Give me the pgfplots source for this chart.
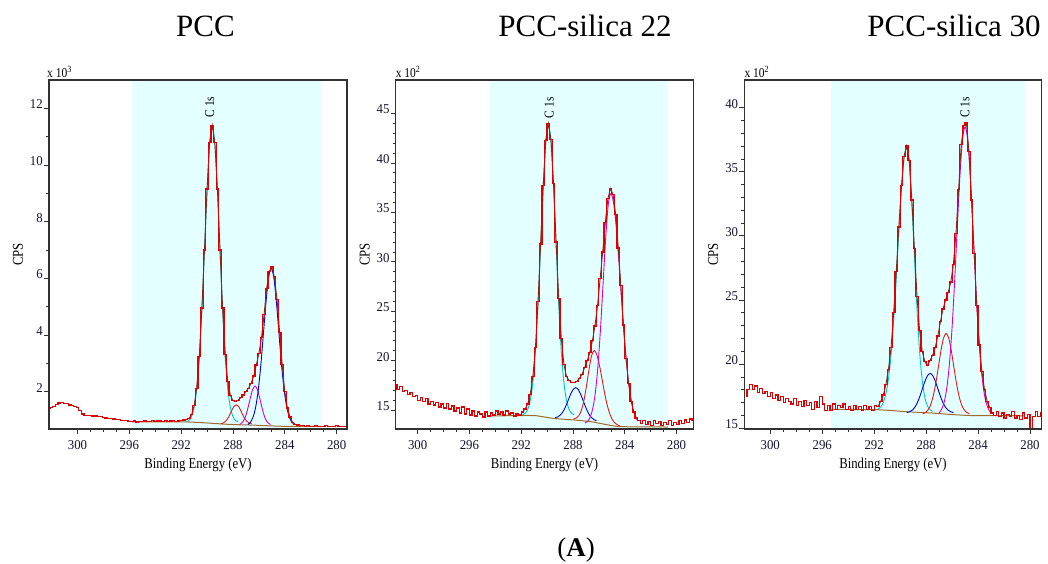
\documentclass[border=0pt]{standalone}
\usepackage{fontspec}
\setmainfont{Liberation Serif}
\newfontfamily\tickfam[FakeStretch=0.95]{Liberation Serif}
\newfontfamily\labfam[FakeStretch=0.85]{Liberation Serif}
\usepackage{pgfplots}
\usepackage{pgfplotstable}
\pgfplotsset{compat=1.18}

\definecolor{shade}{RGB}{228,255,255}
\definecolor{datared}{RGB}{225,0,0}
\definecolor{envred}{RGB}{150,35,20}
\definecolor{cyancomp}{RGB}{0,200,200}
\definecolor{bluecomp}{RGB}{0,0,225}
\definecolor{magcomp}{RGB}{210,0,210}
\definecolor{redcomp}{RGB}{230,25,25}
\definecolor{bgbrown}{RGB}{160,105,40}
\definecolor{framecol}{RGB}{50,50,50}
\definecolor{tickcol}{RGB}{20,20,50}

\newcommand\tickfont{\tickfam\fontsize{13.5}{13.5}\selectfont}
\newcommand\labfont{\labfam\fontsize{15}{15}\selectfont}
\newcommand\smallfont{\labfam\fontsize{13.5}{13.5}\selectfont}

\pgfplotsset{
  xps/.style={
    scale only axis, height=349pt, x dir=reverse,
    clip mode=individual,
    axis line style={draw=framecol, line width=1.1pt},
    tick align=outside, xtick pos=bottom, ytick pos=left,
    major tick length=5pt, minor tick length=3pt,
    every tick/.append style={framecol, line width=0.8pt},
    xtick={280,284,288,292,296,300}, minor x tick num=3,
    tick label style={font=\tickfont, text=tickcol},
    yticklabel style={yshift=4pt, inner xsep=1pt},
    xticklabel style={yshift=-3pt},
    /pgf/number format/assume math mode=true,
    xlabel={Binding Energy (eV)},
    xlabel style={font=\labfont, at={(axis description cs:0.5,0)}, anchor=north, yshift=-26pt},
    axis on top,
  },
  meas/.style={datared, line width=1.2pt, const plot mark mid},
  env/.style={envred, line width=0.9pt},
  comp/.style={line width=0.9pt, smooth},
}

% ---------- PCC ----------
\pgfplotstableread{
x y
302.2 1.40
302.0 1.43
301.8 1.48
301.6 1.55
301.4 1.60
301.2 1.62
301.0 1.59
300.8 1.57
300.6 1.53
300.4 1.50
300.2 1.47
300.0 1.43
299.8 1.32
299.6 1.21
299.4 1.17
299.2 1.16
299.0 1.16
298.8 1.14
298.6 1.14
298.4 1.12
298.2 1.11
298.0 1.08
297.8 1.07
297.6 1.05
297.4 1.06
297.2 1.03
297.0 1.01
296.8 1.02
296.6 0.99
296.4 0.98
296.2 0.97
296.0 0.95
295.8 0.94
295.6 0.96
295.4 0.93
295.2 0.95
295.0 0.94
294.8 0.96
294.6 0.94
294.4 0.95
294.2 0.97
294.0 0.94
293.8 0.96
293.6 0.96
293.4 0.95
293.2 0.97
293.0 0.95
292.8 0.96
292.6 0.97
292.4 0.95
292.2 0.96
292.0 0.97
291.8 1.00
291.6 1.02
291.4 1.05
291.2 1.18
291.0 1.50
290.8 2.12
290.6 3.25
290.4 4.95
290.2 7.00
290.0 9.15
289.8 10.80
289.6 11.40
289.4 10.80
289.2 9.15
289.0 7.00
288.8 4.95
288.6 3.32
288.4 2.35
288.2 1.87
288.0 1.68
287.8 1.65
287.6 1.70
287.4 1.78
287.2 1.88
287.0 2.00
286.8 2.12
286.6 2.30
286.4 2.55
286.2 2.94
286.0 3.34
285.8 3.90
285.6 4.72
285.4 5.65
285.2 6.23
285.0 6.40
284.8 6.05
284.6 5.25
284.4 4.10
284.2 2.95
284.0 2.00
283.8 1.42
283.6 1.10
283.4 0.92
283.2 0.85
283.0 0.82
282.8 0.80
282.6 0.79
282.4 0.78
282.2 0.79
282.0 0.78
281.8 0.77
281.6 0.79
281.4 0.77
281.2 0.78
281.0 0.76
280.8 0.79
280.6 0.77
280.4 0.78
280.2 0.76
280.0 0.79
279.8 0.77
279.6 0.78
279.4 0.77
279.2 0.78
}\dataA

% ---------- PCC-silica 22 ----------
\pgfplotstableread{
x y
301.7 17.6
301.5 17.1
301.3 17.4
301.1 16.9
300.9 17.0
300.7 16.6
300.5 16.8
300.3 16.4
300.1 16.5
299.9 16.0
299.7 16.3
299.5 15.9
299.3 16.2
299.1 15.6
298.9 15.9
298.7 15.5
298.5 15.8
298.3 15.3
298.1 15.6
297.9 15.2
297.7 15.7
297.5 15.1
297.3 15.4
297.1 14.9
296.9 15.2
296.7 14.7
296.5 15.3
296.3 14.6
296.1 15.1
295.9 14.5
295.7 14.9
295.5 14.4
295.3 14.8
295.1 14.6
294.9 14.3
294.7 14.8
294.5 14.4
294.3 14.7
294.1 14.5
293.9 14.9
293.7 14.6
293.5 14.8
293.3 14.5
293.1 14.9
292.9 14.6
292.7 14.7
292.5 14.4
292.3 14.6
292.1 14.5
291.9 14.8
291.7 15.1
291.5 15.6
291.3 16.6
291.1 18.4
290.9 21.3
290.7 26.0
290.5 31.8
290.3 37.7
290.1 42.3
289.9 44.0
289.7 42.4
289.5 37.9
289.3 32.0
289.1 26.3
288.9 22.2
288.7 19.6
288.5 18.4
288.3 18.0
288.1 17.8
287.9 17.8
287.7 17.9
287.5 18.2
287.3 18.6
287.1 19.3
286.9 20.0
286.7 20.8
286.5 22.0
286.3 23.5
286.1 25.6
285.9 28.3
285.7 31.0
285.5 34.0
285.3 36.4
285.1 37.4
284.9 36.8
284.7 34.8
284.5 31.4
284.3 27.6
284.1 23.6
283.9 20.2
283.7 17.7
283.5 15.9
283.3 14.8
283.1 14.2
282.9 13.9
282.7 13.6
282.5 13.9
282.3 13.5
282.1 13.8
281.9 13.4
281.7 13.9
281.5 13.6
281.3 13.8
281.1 13.4
280.9 13.7
280.7 13.5
280.5 13.9
280.3 13.4
280.1 13.7
279.9 13.5
279.7 13.9
279.5 13.6
279.3 14.0
279.1 13.7
278.9 14.1
278.7 13.9
}\dataB

% ---------- PCC-silica 30 ----------
\pgfplotstableread{
x y
301.9 17.5
301.7 18.0
301.5 18.4
301.3 18.0
301.1 18.3
300.9 17.8
300.7 18.1
300.5 17.7
300.3 17.9
300.1 17.5
299.9 17.8
299.7 17.3
299.5 17.6
299.3 17.2
299.1 17.5
298.9 17.0
298.7 17.3
298.5 17.1
298.3 16.9
298.1 17.3
297.9 16.8
297.7 17.1
297.5 16.7
297.3 17.2
297.1 16.8
296.9 17.0
296.7 16.5
296.5 17.1
296.3 16.6
296.1 17.5
295.9 16.9
295.7 16.4
295.5 16.8
295.3 16.4
295.1 16.9
294.9 16.5
294.7 16.8
294.5 16.6
294.3 16.9
294.1 16.5
293.9 16.7
293.7 16.4
293.5 16.8
293.3 16.5
293.1 16.7
292.9 16.4
292.7 16.8
292.5 16.5
292.3 16.7
292.1 16.4
291.9 16.8
291.7 16.7
291.5 17.1
291.3 17.6
291.1 18.4
290.9 19.6
290.7 21.3
290.5 24.0
290.3 27.2
290.1 30.7
289.9 33.9
289.7 36.2
289.5 37.0
289.3 35.9
289.1 32.8
288.9 29.0
288.7 25.3
288.5 22.6
288.3 21.0
288.1 20.2
287.9 19.9
287.7 20.3
287.5 20.7
287.3 21.3
287.1 22.2
286.9 23.3
286.7 24.3
286.5 25.0
286.3 25.6
286.1 26.4
285.9 27.8
285.7 30.2
285.5 33.6
285.3 37.1
285.1 38.6
284.9 38.8
284.7 36.6
284.5 32.8
284.3 28.6
284.1 24.6
283.9 21.5
283.7 19.4
283.5 18.0
283.3 17.1
283.1 16.6
282.9 16.2
282.7 16.0
282.5 16.3
282.3 15.9
282.1 16.2
281.9 15.8
281.7 16.1
281.5 15.9
281.3 16.3
281.1 15.8
280.9 16.0
280.7 15.7
280.5 16.2
280.3 15.8
280.1 16.1
279.9 15.0
279.7 15.9
279.5 16.3
279.3 15.9
279.1 16.2
}\dataC

\begin{document}
\begin{tikzpicture}[x=1pt,y=1pt]
\useasboundingbox (0,0) rectangle (1048,564);

\node[font=\fontsize{31}{31}\selectfont, anchor=base] at (205.5,527.5) {PCC};
\node[font=\fontsize{31}{31}\selectfont, anchor=base] at (585,527.5) {PCC-silica 22};
\node[font=\fontsize{31}{31}\selectfont, anchor=base] at (954,527.5) {PCC-silica 30};
\node[font=\fontsize{27}{27}\selectfont, anchor=base] at (576,7) {(\textbf{A})};

% ===== panel 1 =====
\begin{axis}[xps, at={(49pt,135pt)}, anchor=south west, width=298pt,
  xmin=279.2, xmax=302.2, ymin=0.68, ymax=13.0,
  ytick={2,4,6,8,10,12}, minor y tick num=1]
  \addplot[fill=shade, draw=none] coordinates {(295.8,0.68) (281.2,0.68) (281.2,13.0) (295.8,13.0)} -- cycle;
  \addplot[bgbrown, line width=1pt] coordinates {(295.8,0.93) (291.6,0.93) (290.6,0.91) (289.6,0.88) (288.6,0.85) (287.6,0.83) (286.6,0.82) (285.6,0.80) (284.6,0.78) (283.6,0.77) (281.2,0.77)};
  \addplot[comp, cyancomp] coordinates {(291.6,0.93) (291.4,0.98) (291.2,1.12) (291.0,1.44) (290.8,2.08) (290.6,3.20) (290.4,4.87) (290.2,6.96) (290.0,9.10) (289.8,10.73) (289.6,11.35) (289.4,10.73) (289.2,9.10) (289.0,6.96) (288.8,4.87) (288.6,3.20) (288.4,2.08) (288.2,1.44) (288.0,1.12) (287.8,0.98) (287.6,0.93)};
  \addplot[comp, redcomp] coordinates {(288.95,0.86) (288.75,0.89) (288.55,0.96) (288.35,1.09) (288.15,1.28) (287.95,1.46) (287.75,1.53) (287.55,1.46) (287.35,1.28) (287.15,1.09) (286.95,0.96) (286.75,0.89) (286.55,0.86)};
  \addplot[comp, magcomp] coordinates {(287.5,0.84) (287.3,0.90) (287.1,1.04) (286.9,1.32) (286.7,1.70) (286.5,2.05) (286.3,2.20) (286.1,2.05) (285.9,1.70) (285.7,1.32) (285.5,1.04) (285.3,0.90) (285.1,0.84)};
  \addplot[comp, bluecomp] coordinates {(286.85,0.84) (286.65,0.92) (286.45,1.10) (286.25,1.45) (286.05,2.05) (285.85,2.94) (285.65,4.05) (285.45,5.17) (285.25,6.03) (285.05,6.35) (284.85,6.03) (284.65,5.17) (284.45,4.05) (284.25,2.94) (284.05,2.05) (283.85,1.45) (283.65,1.10) (283.45,0.92) (283.25,0.84)};
  \addplot[env, restrict x to domain=283.2:291.8] table[x=x, y=y] {\dataA};
  \addplot[meas] table[x=x, y=y] {\dataA};
  \node[rotate=90, font=\smallfont] at (axis cs:289.8,12.05) {C 1s};
  \node[rotate=90, font=\labfam\fontsize{15}{15}\selectfont] at ([xshift=-31pt]axis description cs:0,0.5) {CPS};
  \node[anchor=base west, inner sep=0pt, font=\smallfont] at ([xshift=-2pt,yshift=2.5pt]axis description cs:0,1) {x 10\textsuperscript{3}};
\end{axis}

% ===== panel 2 =====
\begin{axis}[xps, at={(395.7pt,135pt)}, anchor=south west, width=297.6pt,
  xmin=278.7, xmax=301.7, ymin=13.08, ymax=48.4,
  ytick={15,20,25,30,35,40,45}, minor y tick num=4]
  \addplot[fill=shade, draw=none] coordinates {(294.4,13.08) (280.65,13.08) (280.65,48.4) (294.4,48.4)} -- cycle;
  \addplot[bgbrown, line width=1pt] coordinates {(294.4,14.40) (291.5,14.45) (290.8,14.42) (290.0,14.25) (289.5,14.15) (288.5,14.05) (287.5,13.95) (286.5,13.80) (285.8,13.62) (285.0,13.42) (284.4,13.32) (283.5,13.30) (280.65,13.28)};
  \addplot[comp, cyancomp] coordinates {(291.9,14.52) (291.7,14.67) (291.5,15.06) (291.3,15.97) (291.1,17.77) (290.9,20.92) (290.7,25.62) (290.5,31.50) (290.3,37.53) (290.1,42.12) (289.9,43.85) (289.7,42.12) (289.5,37.53) (289.3,31.50) (289.1,25.62) (288.9,20.92) (288.7,17.77) (288.5,15.97) (288.3,15.06) (288.1,14.67) (287.9,14.52)};
  \addplot[comp, bluecomp] coordinates {(289.38,14.23) (289.18,14.31) (288.98,14.49) (288.78,14.82) (288.58,15.32) (288.38,15.95) (288.18,16.60) (287.98,17.09) (287.78,17.26) (287.58,17.05) (287.38,16.52) (287.18,15.83) (286.98,15.16) (286.78,14.62) (286.58,14.25) (286.38,14.03) (286.18,13.91)};
  \addplot[comp, redcomp] coordinates {(287.96,14.11) (287.76,14.18) (287.56,14.40) (287.36,14.93) (287.16,15.93) (286.96,17.41) (286.76,19.11) (286.56,20.50) (286.36,21.02) (286.16,20.61) (285.96,19.57) (285.76,18.18) (285.56,16.75) (285.36,15.53) (285.16,14.63) (284.96,14.04) (284.76,13.69) (284.56,13.50) (284.36,13.39)};
  \addplot[comp, magcomp] coordinates {(287.07,13.69) (286.87,13.86) (286.67,14.28) (286.47,15.15) (286.27,16.77) (286.07,19.45) (285.87,23.26) (285.67,27.86) (285.47,32.42) (285.27,35.83) (285.07,36.90) (284.87,36.03) (284.67,33.72) (284.47,30.41) (284.27,26.65) (284.07,23.01) (283.87,19.88) (283.67,17.46) (283.47,15.77) (283.27,14.67) (283.07,14.03)};
  \addplot[env, restrict x to domain=283.0:292.0] table[x=x, y=y] {\dataB};
  \addplot[meas] table[x=x, y=y] {\dataB};
  \node[rotate=90, font=\smallfont] at (axis cs:289.84,45.6) {C 1s};
  \node[rotate=90, font=\labfam\fontsize{15}{15}\selectfont] at ([xshift=-31pt]axis description cs:0,0.5) {CPS};
  \node[anchor=base west, inner sep=0pt, font=\smallfont] at ([xshift=0pt,yshift=2.5pt]axis description cs:0,1) {x 10\textsuperscript{2}};
\end{axis}

% ===== panel 3 =====
\begin{axis}[xps, at={(744.3pt,135pt)}, anchor=south west, width=297.4pt,
  xmin=279.1, xmax=302.0, ymin=14.95, ymax=42.15,
  ytick={15,20,25,30,35,40}, minor y tick num=4]
  \addplot[fill=shade, draw=none] coordinates {(295.3,14.95) (280.4,14.95) (280.4,42.15) (295.3,42.15)} -- cycle;
  \addplot[bgbrown, line width=1pt] coordinates {(295.3,16.48) (291.8,16.46) (290.8,16.40) (289.6,16.30) (288.6,16.25) (287.6,16.20) (286.6,16.12) (285.6,16.05) (284.6,16.00) (283.6,16.00) (280.4,15.98)};
  \addplot[comp, cyancomp] coordinates {(291.7,16.50) (291.5,16.67) (291.3,17.01) (291.1,17.69) (290.9,18.86) (290.7,20.72) (290.5,23.34) (290.3,26.66) (290.1,30.29) (289.9,33.62) (289.7,36.02) (289.5,36.88) (289.3,35.69) (289.1,32.52) (288.9,28.36) (288.7,24.24) (288.5,20.95) (288.3,18.73) (288.1,17.41) (287.9,16.75) (287.7,16.46) (287.5,16.32)};
  \addplot[comp, bluecomp] coordinates {(289.49,16.23) (289.29,16.29) (289.09,16.40) (288.89,16.62) (288.69,16.97) (288.49,17.47) (288.29,18.07) (288.09,18.67) (287.89,19.11) (287.69,19.28) (287.49,19.11) (287.29,18.67) (287.09,18.07) (286.89,17.47) (286.69,16.97) (286.49,16.62) (286.29,16.40) (286.09,16.29) (285.89,16.23)};
  \addplot[comp, redcomp] coordinates {(288.26,16.15) (288.06,16.23) (287.86,16.43) (287.66,16.81) (287.46,17.49) (287.26,18.49) (287.06,19.75) (286.86,21.05) (286.66,22.03) (286.46,22.40) (286.26,22.03) (286.06,21.05) (285.86,19.75) (285.66,18.49) (285.46,17.49) (285.26,16.81) (285.06,16.43) (284.86,16.23) (284.66,16.15)};
  \addplot[comp, magcomp] coordinates {(287.0,16.20) (286.8,16.50) (286.6,17.08) (286.4,18.21) (286.2,20.10) (286.0,22.89) (285.8,26.55) (285.6,30.69) (285.4,34.63) (285.2,37.47) (285.0,38.50) (284.8,37.47) (284.6,34.63) (284.4,30.69) (284.2,26.55) (284.0,22.89) (283.8,20.10) (283.6,18.21) (283.4,17.08) (283.2,16.50) (283.0,16.20)};
  \addplot[env, restrict x to domain=283.0:291.8] table[x=x, y=y] {\dataC};
  \addplot[meas] table[x=x, y=y] {\dataC};
  \node[rotate=90, font=\smallfont] at (axis cs:285.0,40.0) {C 1s};
  \node[rotate=90, font=\labfam\fontsize{15}{15}\selectfont] at ([xshift=-31pt]axis description cs:0,0.5) {CPS};
  \node[anchor=base west, inner sep=0pt, font=\smallfont] at ([xshift=0pt,yshift=2.5pt]axis description cs:0,1) {x 10\textsuperscript{2}};
\end{axis}
\end{tikzpicture}
\end{document}
